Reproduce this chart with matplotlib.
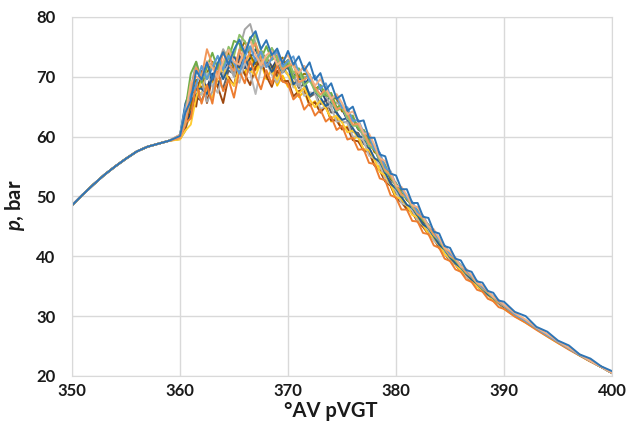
import matplotlib.pyplot as plt
import numpy as np

plt.rcParams['font.family'] = ['Lato', 'DejaVu Sans']
plt.rcParams['mathtext.fontset'] = 'custom'
plt.rcParams['mathtext.bfit'] = 'Lato:italic:bold'
plt.rcParams['mathtext.rm'] = 'Lato:bold'

# crank angle grid: 1 deg before TDC, 0.5 deg in the knock zone, 1 deg in expansion
angle = list(range(350, 360)) + [360 + 0.5 * i for i in range(61)] + list(range(391, 401))

# mean pressure trace, bar
p_mean = [48.5, 50.3, 52.0, 53.6, 55.0, 56.3, 57.5, 58.3, 58.8, 59.3,
          59.8, 61.5, 65.0, 67.5, 69.0, 69.6, 70.0, 70.3, 70.6, 71.0,
          71.5, 72.0, 72.4, 72.6, 72.6, 72.4, 72.1, 71.8, 71.5, 71.2,
          70.8, 70.2, 69.6, 69.0, 68.4, 67.7, 67.0, 66.3, 65.5, 64.7,
          63.8, 62.9, 62.0, 61.0, 59.9, 58.6, 57.2, 55.8, 54.3, 52.8,
          51.3, 50.2, 49.2, 48.1, 47.0, 45.8, 44.7, 43.5, 42.3, 41.1,
          40.0, 39.1, 38.1, 37.2, 36.3, 35.4, 34.6, 33.8, 33.0, 32.3,
          31.6, 30.3, 29.2, 28.0, 26.8, 25.7, 24.6, 23.5, 22.5, 21.5, 20.5]

# per-cycle deviation from the mean, starting at 360 deg
cyc_a = [0.3, 2.5, 1.0, 3.5, 0.5, 2.8, -0.5, 2.0, 3.5, 1.0,
         3.0, 4.2, 1.5, 3.8, 5.0, 2.2, 4.0, 1.8, 3.2, 1.0,
         3.5, 1.8, 3.8, 2.0, 4.0, 1.8, 3.6, 1.5, 3.4, 1.6,
         3.2, 1.4, 3.0, 1.5, 2.8, 1.2, 2.6, 1.2, 2.4, 1.0,
         2.2, 1.0, 2.0, 0.8, 1.9, 0.8, 1.7, 0.6, 1.5, 0.6,
         1.4, 0.5, 1.2, 0.5, 1.1, 0.4, 1.0, 0.4, 0.9, 0.3, 0.8,
         0.4, 0.8, 0.2, 0.6, 0.2, 0.5, 0.1, 0.4, 0.1, 0.3]
cyc_b = [0.0, 0.8, -2.0, 1.5, -3.5, -1.0, -4.5, 0.5, -3.0, -1.5,
         -5.0, -1.0, -3.5, 0.0, -2.5, -4.5, -1.0, -3.0, 0.5, -2.0,
         -2.0, -4.0, -2.5, -4.5, -2.8, -4.2, -2.5, -3.8, -2.2, -3.6,
         -2.0, -3.4, -2.2, -3.2, -2.0, -3.0, -1.8, -2.8, -1.6, -2.6,
         -1.5, -2.4, -1.4, -2.2, -1.2, -1.9, -1.0, -1.7, -0.9, -1.5,
         -0.8, -1.3, -0.7, -1.1, -0.6, -1.0, -0.5, -0.9, -0.5, -0.8, -0.4,
         -0.4, -0.3, -0.3, -0.2, -0.2, -0.2, -0.1, -0.1, 0.0, 0.0]
cyc_c = [0.2, 1.8, 3.0, 5.0, 0.5, -3.8, -2.5, 1.5, 4.0, 2.0,
         -1.5, 2.5, 5.5, 6.2, 3.0, -1.0, 0.5, 3.0, 1.5, -0.5,
         1.5, 0.0, -1.2, 1.0, 1.5, -0.3, 1.2, 0.5, -0.5, 1.0,
         1.2, 0.0, 0.8, 1.0, -0.2, 0.6, 1.0, 0.2, 0.4, 0.8,
         0.2, 0.5, 0.7, 0.1, 0.4, 0.6, 0.1, 0.3, 0.5, 0.1,
         0.3, 0.4, 0.1, 0.2, 0.3, 0.1, 0.2, 0.2, 0.1, 0.1, 0.1]
cyc_d = [-0.2, 0.0, -1.5, 0.5, -2.0, 1.0, -1.0, 2.0, -0.5, 1.5,
         -1.0, 0.5, -2.0, 1.0, -1.5, 0.0, -2.5, -0.5, -3.0, -1.0,
         -2.5, -1.0, -3.0, -1.5, -3.2, -1.8, -2.8, -1.2, -3.0, -1.5,
         -2.6, -1.2, -2.4, -1.0, -2.2, -1.2, -2.0, -0.8, -1.8, -1.0,
         -1.6, -0.8, -1.4, -0.6, -1.3, -0.6, -1.1, -0.5, -1.0, -0.4,
         -0.8, -0.4, -0.7, -0.3, -0.6, -0.3, -0.5, -0.2, -0.5, -0.2, -0.4,
         -0.3, -0.3, -0.2, -0.2, -0.2, -0.1, -0.1, -0.1, 0.0, 0.0]
cyc_e = [0.5, 3.5, 2.0, 1.0, 2.8, 0.0, 1.5, 3.2, 0.5, 2.5,
         0.8, -1.5, 1.0, 2.5, 0.0, 1.8, -0.5, 1.2, 2.8, 0.5,
         1.8, 3.2, 1.0, 2.8, 0.8, 2.5, 1.0, 2.6, 0.8, 2.2,
         1.0, 2.0, 0.6, 1.8, 0.8, 1.6, 0.6, 1.5, 0.5, 1.4,
         0.6, 1.2, 0.5, 1.0, 0.4, 1.0, 0.4, 0.8, 0.3, 0.7,
         0.4, 0.6, 0.3, 0.5, 0.3, 0.5, 0.2, 0.4, 0.2, 0.3, 0.2]
cyc_f = [0.4, 3.0, 5.5, 5.0, 0.0, 2.0, 4.0, 1.0, 3.5, 2.0,
         4.5, 3.5, 1.0, 4.0, 2.5, 0.5, 3.0, 1.0, 2.0, 0.0,
         1.5, -0.5, 1.8, 0.5, 2.0, 0.0, 1.6, 0.5, 1.8, 0.2,
         1.4, 0.4, 1.5, 0.2, 1.2, 0.5, 1.2, 0.3, 1.0, 0.4,
         0.9, 0.3, 0.8, 0.4, 0.7, 0.2, 0.6, 0.3, 0.5, 0.2,
         0.5, 0.2, 0.4, 0.2, 0.3, 0.2, 0.3, 0.1, 0.2, 0.1, 0.2]
cyc_g = [0.0, 0.5, -1.0, -0.5, 1.0, -1.5, 0.5, -2.0, 0.0, 1.5,
         -0.5, 1.5, -1.0, 0.5, 2.0, 0.0, 1.0, -0.5, 1.5, 0.5,
         2.0, 0.0, 1.2, -0.5, 1.5, 0.2, 1.0, -0.3, 1.2, 0.0,
         0.8, -0.2, 1.0, 0.2, 0.6, -0.2, 0.8, 0.0, 0.5, 0.1,
         0.6, 0.0, 0.5, 0.1, 0.4, 0.0, 0.4, 0.1, 0.3, 0.0,
         0.3, 0.1, 0.2, 0.0, 0.2, 0.1, 0.1, 0.0, 0.1, 0.0, 0.1]
cyc_h = [0.1, 0.0, 1.5, -2.5, 2.0, -4.0, 0.0, -2.0, -5.0, -1.0,
         -3.0, 0.5, -2.0, -4.0, -1.0, 0.5, -2.0, -3.5, -0.5, -2.0,
         -1.5, -3.5, -2.0, -1.0, -3.2, -2.0, -3.0, -1.2, -2.8, -2.0,
         -2.6, -1.4, -2.6, -1.8, -2.2, -1.2, -2.0, -1.5, -1.8, -1.0,
         -1.6, -1.2, -1.3, -0.8, -1.2, -0.9, -1.0, -0.6, -0.9, -0.7,
         -0.7, -0.5, -0.6, -0.5, -0.5, -0.3, -0.4, -0.3, -0.3, -0.2, -0.3]
cyc_i = [-0.2, -0.5, 0.5, -1.0, -3.0, -1.5, 0.5, -1.0, -2.5, 0.0,
         -1.0, 1.0, -0.5, -2.0, 0.5, -1.0, 1.0, 0.0, -1.5, 0.5,
         -0.5, 0.2, -1.5, -0.2, -1.8, -0.5, -1.6, -0.3, -1.5, -0.6,
         -1.4, -0.5, -1.2, -0.4, -1.1, -0.6, -1.0, -0.3, -0.9, -0.4,
         -0.8, -0.4, -0.7, -0.3, -0.6, -0.3, -0.5, -0.2, -0.4, -0.2,
         -0.3, -0.2, -0.3, -0.1, -0.2, -0.1, -0.2, -0.1, -0.1, -0.1, -0.1]
cyc_j = [0.0, 1.0, 0.0, 2.0, -1.0, 1.0, 2.5, -0.5, 1.0, 3.0,
         0.0, 2.0, 3.5, 1.0, -0.5, 2.0, 0.5, -1.0, 1.0, 2.0,
         0.5, 2.0, 0.2, 1.5, 1.8, 0.2, 1.6, 0.5, 1.2, 1.6,
         0.4, 1.4, 1.0, 0.3, 1.2, 0.9, 0.2, 1.0, 0.8, 0.2,
         0.8, 0.7, 0.2, 0.6, 0.6, 0.1, 0.5, 0.5, 0.1, 0.4,
         0.4, 0.1, 0.3, 0.3, 0.1, 0.2, 0.2, 0.1, 0.2, 0.1, 0.1]
cyc_k = [0.5, 2.0, 4.0, 2.5, 0.5, 3.0, 1.5, -0.5, 2.0, 3.5,
         1.0, 0.0, 2.5, 3.5, 1.0, -0.5, 1.5, 2.5, 0.5, 1.5,
         2.8, 1.5, 1.0, 2.8, 1.8, 0.8, 2.6, 1.8, 0.8, 2.4,
         1.8, 0.8, 2.2, 1.6, 0.6, 1.9, 1.4, 0.6, 1.6, 1.2,
         0.5, 1.4, 1.0, 0.4, 1.2, 0.8, 0.3, 1.0, 0.7, 0.3,
         0.8, 0.6, 0.2, 0.7, 0.5, 0.2, 0.5, 0.4, 0.2, 0.4, 0.3,
         0.2, 0.2, 0.1, 0.2, 0.1, 0.1, 0.1, 0.0, 0.0, 0.0]
cyc_l = [0.2, 1.0, 2.0, 3.5, 1.5, 0.0, 2.0, 3.0, 1.0, 4.0,
         2.0, 5.0, 3.5, 1.5, 4.5, 2.0, 0.5, 3.0, 1.5, 0.0,
         2.0, 0.5, 1.5, -0.5, 1.0, 0.0, -0.5, 1.2, 0.5, -0.4,
         1.0, 0.3, -0.2, 0.8, 0.4, -0.2, 0.7, 0.3, -0.1, 0.6,
         0.3, 0.0, 0.5, 0.2, 0.0, 0.4, 0.2, 0.0, 0.3, 0.1,
         0.0, 0.2, 0.1, 0.0, 0.2, 0.1, 0.0, 0.1, 0.1, 0.0, 0.1]
cyc_m = [0.0, 1.0, 1.5, 0.0, -2.0, 1.0, -1.5, -3.0, 0.0, 1.0,
         -1.5, -3.0, 0.0, -2.0, -5.5, -1.0, 0.5, -1.5, -2.5, 0.0,
         -0.5, -2.0, -0.5, -2.2, -1.0, -0.5, -2.4, -1.2, -0.6, -2.2,
         -1.2, -0.6, -2.0, -1.0, -0.6, -1.8, -0.9, -0.5, -1.5, -0.8,
         -0.4, -1.3, -0.7, -0.4, -1.1, -0.6, -0.3, -0.9, -0.5, -0.3,
         -0.7, -0.4, -0.2, -0.6, -0.3, -0.2, -0.4, -0.3, -0.1, -0.3, -0.2]
cyc_n = [0.3, 4.0, 3.0, 0.5, -1.0, -2.5, 0.0, 1.5, -1.0, 0.5,
         2.0, -0.5, 1.0, -1.5, 0.0, 2.0, 0.5, -1.0, 0.5, -0.5,
         1.0, -1.5, 0.0, 0.5, -1.5, -0.2, -0.5, -1.2, 0.3, -0.8,
         -1.0, 0.2, -0.6, -1.0, 0.0, -0.4, -0.8, 0.0, -0.3, -0.7,
         0.0, -0.3, -0.6, 0.0, -0.2, -0.5, 0.0, -0.2, -0.4, 0.0,
         -0.2, -0.3, 0.0, -0.2, -0.2, 0.0, -0.1, -0.2, 0.0, -0.1, -0.1]
cyc_o = [0.0, 0.5, 2.5, 4.0, 1.0, 5.0, 2.0, 0.0, 3.5, 1.0,
         -0.5, 2.5, 0.0, 1.5, 3.0, 0.5, -0.5, 1.5, 2.5, 0.0,
         1.0, 2.0, -0.5, 0.5, 1.8, 0.5, 0.0, 1.6, 1.0, -0.2,
         1.2, 1.0, 0.0, 1.1, 0.8, 0.2, 1.0, 0.7, 0.1, 0.8,
         0.6, 0.1, 0.7, 0.5, 0.1, 0.6, 0.4, 0.1, 0.5, 0.3,
         0.1, 0.4, 0.3, 0.1, 0.3, 0.2, 0.1, 0.2, 0.2, 0.0, 0.1]
cyc_p = [-0.3, -0.5, -3.0, -1.0, 0.5, -2.0, -3.5, -0.5, 1.0, -1.5,
         -3.0, -0.5, 1.5, -1.5, -2.5, 0.0, 1.0, -1.0, -2.0, 0.5,
         -0.5, -1.5, -2.5, -0.8, -2.2, -2.8, -1.0, -1.6, -2.4, -1.2,
         -1.4, -2.2, -1.0, -1.2, -2.0, -0.9, -1.0, -1.7, -0.8, -0.8,
         -1.4, -0.6, -0.7, -1.2, -0.5, -0.6, -1.0, -0.4, -0.5, -0.8,
         -0.3, -0.4, -0.6, -0.2, -0.3, -0.5, -0.2, -0.2, -0.4, -0.1, -0.2]

cycles = [cyc_d, cyc_i, cyc_g, cyc_j, cyc_h, cyc_m, cyc_p, cyc_n,
          cyc_c, cyc_f, cyc_b, cyc_l, cyc_o, cyc_e, cyc_k, cyc_a]
colors = ['#FFC000', '#636363', '#264478', '#997300', '#9E480E', '#B7B7B7', '#FFCD33', '#255E91',
          '#A5A5A5', '#70AD47', '#ED7D31', '#8CC168', '#F1975A', '#5B9BD5', '#F4B183', '#2E75B6']

fig = plt.figure(figsize=(6.31, 4.21), dpi=100)
ax = fig.add_axes([0.114, 0.107, 0.856, 0.853])

x = np.array(angle)
base = np.array(p_mean)
for off, c in zip(cycles, colors):
    dev = np.zeros(len(base))
    dev[10:10 + len(off)] = off
    ax.plot(x, base + dev, color=c, lw=1.4, solid_joinstyle='round')

ax.set_xlim(350, 400)
ax.set_ylim(20, 80)
ax.set_xticks(range(350, 401, 10))
ax.set_yticks(range(20, 81, 10))
ax.grid(True, color='#d9d9d9', lw=1.0)
ax.set_axisbelow(True)
for s in ax.spines.values():
    s.set_color('#d9d9d9')
ax.tick_params(length=0, labelsize=12, colors='#1a1a1a')
ax.tick_params(axis='y', pad=12)
ax.tick_params(axis='x', pad=5)
for lab in ax.get_xticklabels() + ax.get_yticklabels():
    lab.set_fontweight('bold')

ax.set_xlabel('°AV pVGT', fontsize=14.5, fontweight='bold', color='#1a1a1a')
ax.set_ylabel(r'$\mathbfit{p}$, bar', fontsize=14.5, fontweight='bold', color='#1a1a1a')
ax.xaxis.set_label_coords(0.48, -0.07)
ax.yaxis.set_label_coords(-0.083, 0.476)

fig.savefig('out.png', dpi=100)
